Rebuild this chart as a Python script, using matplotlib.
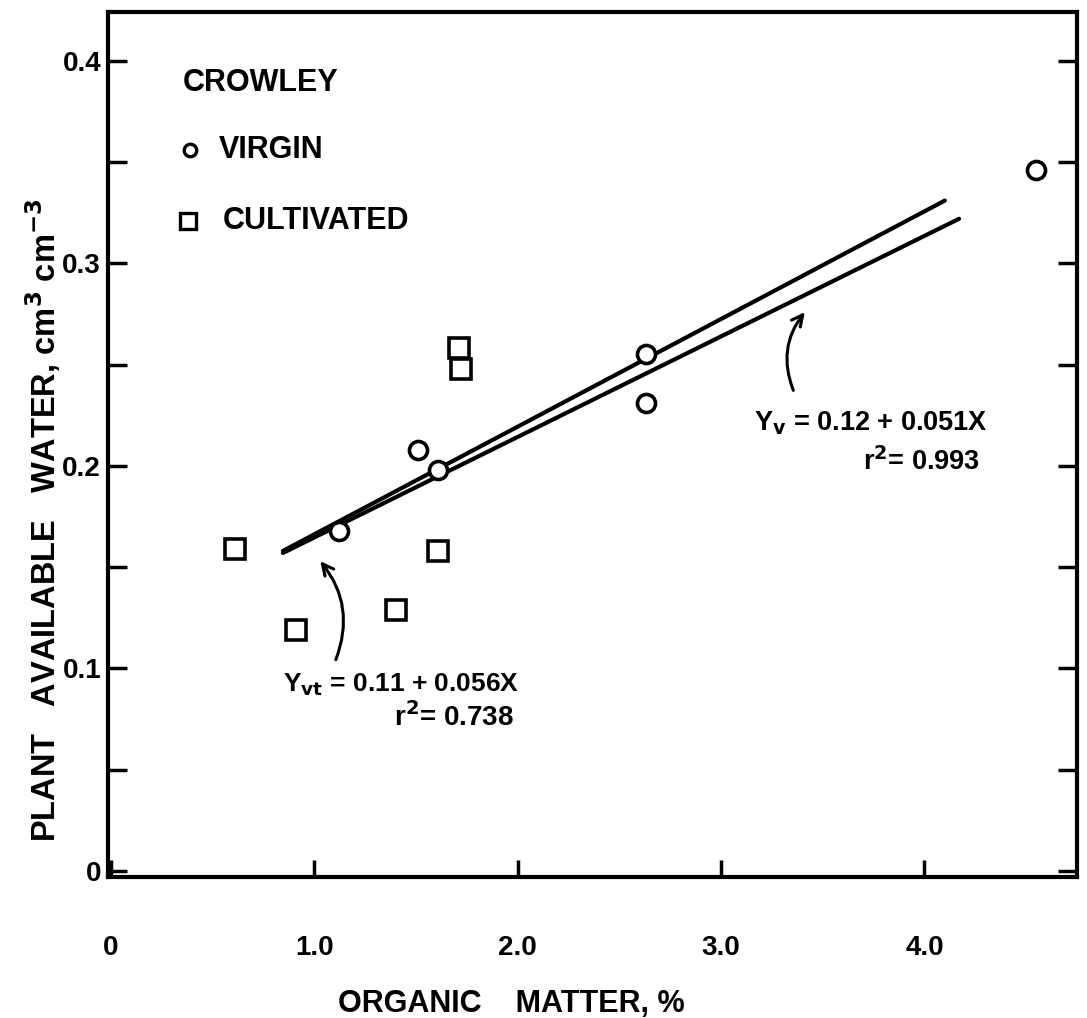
import matplotlib
matplotlib.use("Agg")
import matplotlib.pyplot as plt

plt.rcParams['font.family'] = ['Liberation Sans', 'DejaVu Sans']
plt.rcParams['font.weight'] = 'bold'
plt.rcParams['mathtext.default'] = 'bf'

# virgin soils (circles)
virgin_x = [1.12, 1.51, 1.61, 2.63, 2.63, 4.55]
virgin_y = [0.168, 0.208, 0.198, 0.255, 0.231, 0.346]
# cultivated soils (squares)
cult_x = [0.61, 0.91, 1.40, 1.61, 1.71, 1.72]
cult_y = [0.159, 0.119, 0.129, 0.158, 0.258, 0.248]

# regression lines as drawn on the figure
line_vt_x = [0.845, 4.10]
line_vt_y = [0.158, 0.331]
line_v_x = [0.845, 4.17]
line_v_y = [0.157, 0.322]

xticks = [0, 1.0, 2.0, 3.0, 4.0]
xtick_labels = ['0', '1.0', '2.0', '3.0', '4.0']
yticks = [0, 0.1, 0.2, 0.3, 0.4]
ytick_labels = ['0', '0.1', '0.2', '0.3', '0.4']
yminor = [0.05, 0.15, 0.25, 0.35]

fig = plt.figure(figsize=(10.87, 10.18), dpi=100)
ax = fig.add_axes([0.0994, 0.1385, 0.8914, 0.8495])

ax.plot(line_vt_x, line_vt_y, color='black', lw=3, solid_capstyle='round')
ax.plot(line_v_x, line_v_y, color='black', lw=3, solid_capstyle='round')

ax.plot(virgin_x, virgin_y, 'o', ms=13, mfc='white', mec='black', mew=2.6)
ax.plot(cult_x, cult_y, 's', ms=14, mfc='white', mec='black', mew=2.6)

ax.set_xlim(-0.015, 4.75)
ax.set_ylim(-0.003, 0.424)

ax.set_xticks(xticks)
ax.set_xticklabels(xtick_labels)
ax.set_yticks(yticks)
ax.set_yticklabels(ytick_labels)
ax.set_yticks(yminor, minor=True)
ax.tick_params(axis='x', direction='in', length=12, width=2.5, pad=42,
               labelsize=20, top=False)
ax.tick_params(axis='y', which='both', direction='in', length=14, width=2.5,
               pad=5, labelsize=20, right=True)
for lab in ax.get_xticklabels() + ax.get_yticklabels():
    lab.set_fontweight('bold')

for sp in ax.spines.values():
    sp.set_linewidth(3)

ax.set_xlabel('ORGANIC    MATTER, %', fontsize=22, fontweight='bold')
ax.xaxis.set_label_coords(0.416, -0.13)
ax.set_ylabel('PLANT   AVAILABLE   WATER, cm$^3$ cm$^{-3}$',
              fontsize=23.5, fontweight='bold')
ax.yaxis.set_label_coords(-0.046, 0.413)

# legend block
ax.text(0.35, 0.389, 'CROWLEY', fontsize=22, fontweight='bold', va='center')
ax.plot([0.39], [0.356], 'o', ms=9, mfc='white', mec='black', mew=2.4)
ax.text(0.53, 0.356, 'VIRGIN', fontsize=22, fontweight='bold', va='center')
ax.plot([0.38], [0.321], 's', ms=12, mfc='white', mec='black', mew=2.4)
ax.text(0.55, 0.321, 'CULTIVATED', fontsize=22, fontweight='bold', va='center')

# equations
ax.text(3.16, 0.221, 'Y$_v$ = 0.12 + 0.051X', fontsize=19.5,
        fontweight='bold', va='center')
ax.text(3.70, 0.202, 'r$^2$= 0.993', fontsize=19.5,
        fontweight='bold', va='center')
ax.text(0.845, 0.092, 'Y$_{vt}$ = 0.11 + 0.056X', fontsize=19,
        fontweight='bold', va='center')
ax.text(1.39, 0.076, 'r$^2$= 0.738', fontsize=20,
        fontweight='bold', va='center')

ax.annotate('', xy=(3.42, 0.277), xytext=(3.36, 0.236),
            arrowprops=dict(arrowstyle='->', lw=2.2, color='black',
                            connectionstyle='arc3,rad=-0.3',
                            mutation_scale=20))
ax.annotate('', xy=(1.02, 0.154), xytext=(1.10, 0.103),
            arrowprops=dict(arrowstyle='->', lw=2.2, color='black',
                            connectionstyle='arc3,rad=0.3',
                            mutation_scale=20))

fig.savefig('out.png', dpi=100)
